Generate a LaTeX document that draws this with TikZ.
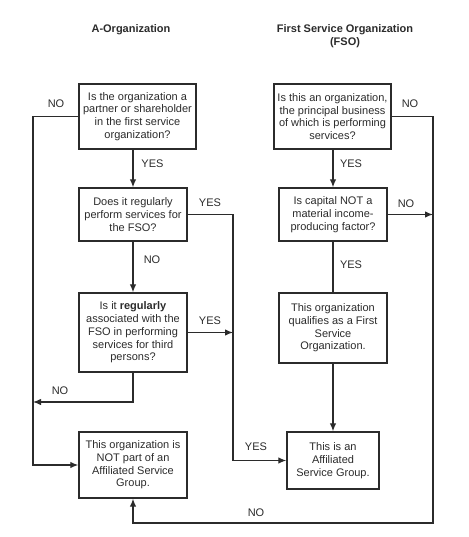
\documentclass[tikz,border=0pt]{standalone}
\usepackage{fontspec}
\setmainfont{Liberation Sans}
\usetikzlibrary{arrows.meta}
\definecolor{ink}{HTML}{2B2B2B}

\tikzset{
  box/.style={draw=ink, line width=1.4pt, align=center, inner sep=1pt,
    font=\fontsize{11}{12.7}\selectfont, text=ink},
  lbl/.style={font=\fontsize{11}{12}\selectfont, text=ink},
  ttl/.style={font=\fontsize{11}{12.8}\selectfont\bfseries, align=center, text=ink},
  arr/.style={draw=ink, line width=1.2pt, -{Latex[length=8pt,width=6.5pt]}},
  ln/.style={draw=ink, line width=1.2pt}
}

\begin{document}
\begin{tikzpicture}[x=1pt,y=-1pt]
  \useasboundingbox (0,0) rectangle (468,537);

  % titles
  \node[ttl] (tA) at (131,30) {A-Organization};
  \node[ttl] (tF) at (345,36.5) {First Service Organization\\(FSO)};

  % left column
  \node[box, minimum width=117pt, minimum height=65pt] (A1) at (137.5,116.5)
    {Is the organization a\\partner or shareholder\\in the first service\\organization?};
  \node[box, minimum width=108pt, minimum height=53pt] (A2) at (133,214.5)
    {Does it regularly\\perform services for\\the FSO?};
  \node[box, minimum width=108pt, minimum height=79pt] (A3) at (133,332.5)
    {Is it \textbf{regularly}\\associated with the\\FSO in performing\\services for third\\persons?};
  \node[box, minimum width=108pt, minimum height=66pt] (A4) at (133,465)
    {This organization is\\NOT part of an\\Affiliated Service\\Group.};

  % right column
  \node[box, minimum width=117pt, minimum height=65pt] (F1) at (332.5,116.5)
    {Is this an organization,\\the principal business\\of which is performing\\services?};
  \node[box, minimum width=108pt, minimum height=53pt] (F2) at (333,214.5)
    {Is capital NOT a\\material income-\\producing factor?};
  \node[box, minimum width=108pt, minimum height=70pt] (F3) at (333,328)
    {This organization\\qualifies as a First\\Service\\Organization.};
  \node[box, minimum width=92pt, minimum height=57pt] (F4) at (333,460.5)
    {This is an\\Affiliated\\Service Group.};

  % routing points
  \coordinate (lft) at (33,0);
  \coordinate (mid) at (233,0);
  \coordinate (rgt) at (433,0);
  \coordinate (noA) at (33,402);
  \coordinate (bot) at (433,523);

  % connectors
  \draw[arr] (A1.west) -| (lft |- A4.west) -- (A4.west);
  \draw[arr] (A2.north |- A1.south) -- (A2.north);
  \draw[arr] (A2.south) -- (A3.north);
  \draw[arr] (A2.east) -| (mid |- F4.west) -- (F4.west);
  \draw[arr] (A3.east) -- (mid |- A3.east);
  \draw[arr] (A3.south) |- (noA);

  \draw[arr] (F1.east) -| (bot) -| (A4.south);
  \draw[arr] (F2.north |- F1.south) -- (F2.north);
  \draw[arr] (F2.east) -- (rgt |- F2.east);
  \draw[ln] (F2.south) -- (F3.north);
  \draw[arr] (F3.south) -- (F4.north);

  % labels
  \node[lbl] (n1) at (56,104) {NO};
  \node[lbl] (y1) at (152.5,164) {YES};
  \node[lbl] (y2) at (210,203) {YES};
  \node[lbl] (n2) at (152,260) {NO};
  \node[lbl] (y3) at (210,321) {YES};
  \node[lbl] (n3) at (60,391) {NO};
  \node[lbl] (y4) at (256,447) {YES};
  \node[lbl] (n4) at (410,104) {NO};
  \node[lbl] (y5) at (351,164) {YES};
  \node[lbl] (n5) at (406,204) {NO};
  \node[lbl] (y6) at (351,265) {YES};
  \node[lbl] (n6) at (256,513) {NO};
\end{tikzpicture}
\end{document}
